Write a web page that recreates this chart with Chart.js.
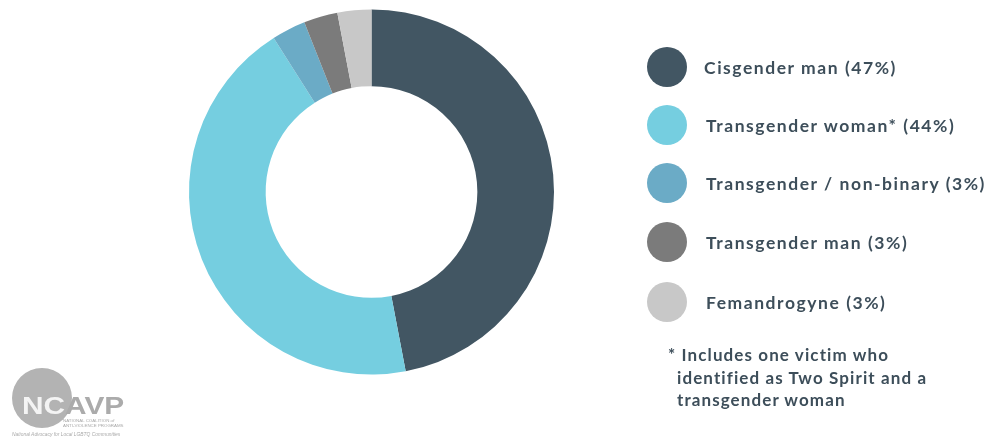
<!DOCTYPE html>
<html>
<head>
<meta charset="utf-8">
<script src="https://cdn.jsdelivr.net/npm/chart.js@4"></script>
<style>
  html, body { margin: 0; padding: 0; background: #ffffff; }
  #wrap { position: relative; width: 991px; height: 440px; overflow: hidden; }
  #chart { position: absolute; left: 0; top: 0; }
  .leg { position: absolute; left: 647px; height: 40px; display: flex; align-items: center; }
  .dot { width: 40px; height: 40px; border-radius: 50%; flex: none; }
  .lab { margin-left: 17px; font-family: Lato, "Noto Sans", sans-serif; font-weight: 700; font-size: 17.5px; letter-spacing: 1.55px; color: #3d4e5a; white-space: nowrap; }
  #note { position: absolute; left: 668px; top: 344px; font-family: Lato, "Noto Sans", sans-serif; font-weight: 700; font-size: 17px; letter-spacing: 1.1px; line-height: 22.5px; color: #3d4e5a; }
  #note .ind { padding-left: 9px; }
  #logo { position: absolute; left: 0; top: 360px; width: 140px; height: 80px; }
  #logo .circ { position: absolute; left: 12px; top: 8px; width: 60px; height: 60px; border-radius: 50%; background: #b3b3b3; }
  #logo .big { position: absolute; left: 22px; top: 35px; font-family: "Liberation Sans", Arial, sans-serif; font-weight: 700; font-size: 23.5px; letter-spacing: 0px; color: #ababab; line-height: 23px; transform: scaleX(1.27); transform-origin: 0 0; white-space: nowrap; }
  #logo .big span { color: #f4f4f4; }
  #logo .small { position: absolute; left: 63px; top: 58px; font-family: "Liberation Sans", Arial, sans-serif; font-size: 4.4px; line-height: 5px; color: #a8a8a8; letter-spacing: 0px; white-space: nowrap; }
  #logo .tag { position: absolute; left: 12px; top: 72px; font-family: "Liberation Sans", Arial, sans-serif; font-style: italic; font-size: 4.9px; color: #aaaaaa; white-space: nowrap; }
</style>
</head>
<body>
<div id="wrap">
  <canvas id="chart" width="991" height="440"></canvas>
  <div id="legend"></div>
  <div id="note"></div>
  <div id="logo">
    <div class="circ"></div>
    <div class="big"><span>NC</span>AVP</div>
    <div class="small">NATIONAL COALITION <i>of</i><br>ANTI-VIOLENCE PROGRAMS</div>
    <div class="tag">National Advocacy for Local LGBTQ Communities</div>
  </div>
</div>
<script>
const categories = ["Cisgender man", "Transgender woman*", "Transgender / non-binary", "Transgender man", "Femandrogyne"];
const values = [47, 44, 3, 3, 3];
const colors = ["#425663", "#75cee0", "#6babc6", "#7b7b7b", "#c8c8c8"];
const legendTops = [47, 105, 163, 222, 282];
const footnoteLines = ["* Includes one victim who", "identified as Two Spirit and a", "transgender woman"];

const legendEl = document.getElementById('legend');
categories.forEach((c, i) => {
  const row = document.createElement('div');
  row.className = 'leg';
  row.style.top = legendTops[i] + 'px';
  const d = document.createElement('div');
  d.className = 'dot';
  d.style.background = colors[i];
  const l = document.createElement('div');
  l.className = 'lab';
  if (i > 0) l.style.marginLeft = '19px';
  l.textContent = c + ' (' + values[i] + '%)';
  row.appendChild(d); row.appendChild(l);
  legendEl.appendChild(row);
});
const noteEl = document.getElementById('note');
footnoteLines.forEach((t, i) => {
  const div = document.createElement('div');
  if (i > 0) div.className = 'ind';
  div.textContent = t;
  noteEl.appendChild(div);
});

new Chart(document.getElementById('chart'), {
  type: 'doughnut',
  data: {
    labels: categories,
    datasets: [{ data: values, backgroundColor: colors, borderWidth: 0 }]
  },
  options: {
    responsive: false,
    animation: false,
    cutout: '58%',
    layout: { padding: { left: 189, right: 437, top: 9, bottom: 65 } },
    plugins: { legend: { display: false }, tooltip: { enabled: false } }
  }
});
</script>
</body>
</html>
